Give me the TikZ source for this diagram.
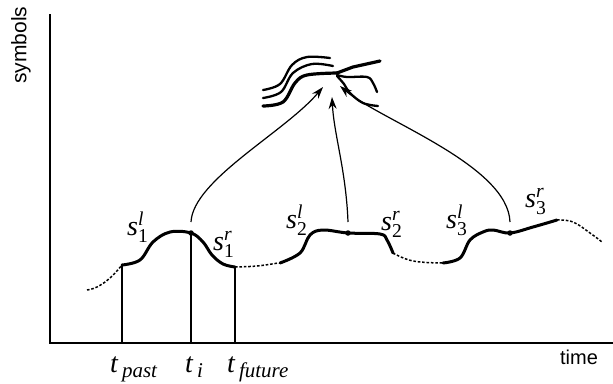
\documentclass[tikz,border=0pt]{standalone}
\usepackage{amsmath}
\usepackage{fontspec}
\setmainfont{Liberation Serif}
\newfontfamily\arialfont{Liberation Sans}
\usetikzlibrary{arrows.meta}
\newcommand{\slab}[2]{$\textit{s}^{\textit{#1}}_{\textup{#2}}$}
\newcommand{\tlab}[1]{\textit{t}\kern3.5pt\raisebox{-5pt}{\fontsize{21}{21}\selectfont\textit{#1}}}
\tikzset{
  axisline/.style={line width=1.4pt},
  thickcurve/.style={line width=3pt, line cap=round, line join=round},
  dashcurve/.style={line width=1.5pt, dash pattern=on 2.6pt off 1.8pt},
  tline/.style={line width=1.3pt},
  arrowline/.style={line width=1.2pt, -{Stealth[length=12pt,width=8pt,inset=4pt]}},
  strandthin/.style={line width=2.3pt, line cap=round},
  strandthick/.style={line width=3.2pt, line cap=round},
  mathlab/.style={inner sep=0pt, anchor=base west, font=\fontsize{28}{28}\selectfont},
  ylabstyle/.style={inner sep=0pt, font=\arialfont\fontsize{21}{21}\selectfont},
  xlabstyle/.style={inner sep=0pt, font=\arialfont\fontsize{20}{20}\selectfont},
  dotmark/.style={circle, fill=black, inner sep=0pt, minimum size=5.5pt}
}
\begin{document}
\begin{tikzpicture}[x=1pt,y=-1pt]
\useasboundingbox (0,0) rectangle (613,383);
% axes
\coordinate (ytop) at (50,14);
\coordinate (orig) at (50,343);
\coordinate (xend) at (613,343);
\draw[axisline] (ytop) -- (orig) -- (xend);
\node[ylabstyle, rotate=90] (ylab) at (21,45) {symbols};
\node[xlabstyle] (xlab) at (579,357) {time};
% dashed parts of the curve
\draw[dashcurve] plot[smooth, tension=0.7] coordinates {(87,290) (97,287) (110,278) (122,265)};
\draw[dashcurve] plot[smooth, tension=0.7] coordinates {(235,267) (257,266) (278,263)};
\draw[dashcurve] plot[smooth, tension=0.7] coordinates {(393,253) (413,261) (443,263)};
\draw[dashcurve] plot[smooth, tension=0.7] coordinates {(557,220) (573,222) (590,233) (602,242)};
% solid parts
\draw[thickcurve] plot[smooth, tension=0.6] coordinates {(122,265) (140,260) (153,242) (170,232) (191,233) (203,242) (212,255) (223,264) (235,267)};
\draw[thickcurve] plot[smooth, tension=0.6] coordinates {(280,263) (300,253) (310,235) (323,230) (348,233) (380,234) (387,240) (393,253)};
\draw[thickcurve] plot[smooth, tension=0.6] coordinates {(443,263) (460,258) (470,240) (483,232) (493,230) (510,233) (533,227) (557,220)};
% dots
\node[dotmark] (d1) at (191,233) {};
\node[dotmark] (d2) at (348,233) {};
\node[dotmark] (d3) at (510,233) {};
% time lines
\coordinate (pastTop) at (122,265);
\coordinate (pastBot) at (122,343);
\coordinate (iBot) at (191,343);
\coordinate (futTop) at (235,267);
\coordinate (futBot) at (235,343);
\draw[tline] (pastTop) -- (pastBot);
\draw[tline] (d1.center) -- (iBot);
\draw[tline] (futTop) -- (futBot);
% arrows
\coordinate (a1s) at (191,222);
\coordinate (a2s) at (348,222);
\coordinate (a3s) at (510,222);
\coordinate (tip1) at (323,87);
\coordinate (tip2) at (332,97);
\coordinate (tip3) at (340,86);
\draw[arrowline] (a1s) .. controls (193,180) and (285,132) .. (tip1);
\draw[arrowline] (a2s) .. controls (346,170) and (334,135) .. (tip2);
\draw[arrowline] (a3s) .. controls (508,165) and (380,120) .. (tip3);
% converging bundle
\draw[strandthin] plot[smooth, tension=0.6] coordinates {(263,90) (280,84) (292,65) (307,57) (330,58)};
\draw[strandthin] plot[smooth, tension=0.6] coordinates {(263,98) (281,92) (293,73) (312,64) (333,66)};
\draw[strandthick] plot[smooth, tension=0.6] coordinates {(263,106) (283,102) (295,83) (307,75) (337,73)};
\coordinate (cross) at (337,73);
\draw[strandthick] (cross) -- (353,67) -- (380,61);
\draw[strandthin] plot[smooth, tension=0.6] coordinates {(337,75) (347,77) (367,77) (373,83) (377,92)};
\draw[strandthin] plot[smooth, tension=0.6] coordinates {(337,76) (344,84) (350,93) (363,103) (378,106)};
% labels
\node[mathlab] (s1l) at (127,235) {\slab{l}{1}};
\node[mathlab] (s1r) at (213,250) {\slab{r}{1}};
\node[mathlab] (s2l) at (286,228) {\slab{l}{2}};
\node[mathlab] (s2r) at (381,230) {\slab{r}{2}};
\node[mathlab] (s3l) at (446,228) {\slab{l}{3}};
\node[mathlab] (s3r) at (525,207) {\slab{r}{3}};
\node[mathlab] (tpast) at (110,372) {\tlab{past}};
\node[mathlab] (ti) at (185,372) {\tlab{i}};
\node[mathlab] (tfut) at (227,372) {\tlab{future}};
\end{tikzpicture}
\end{document}
